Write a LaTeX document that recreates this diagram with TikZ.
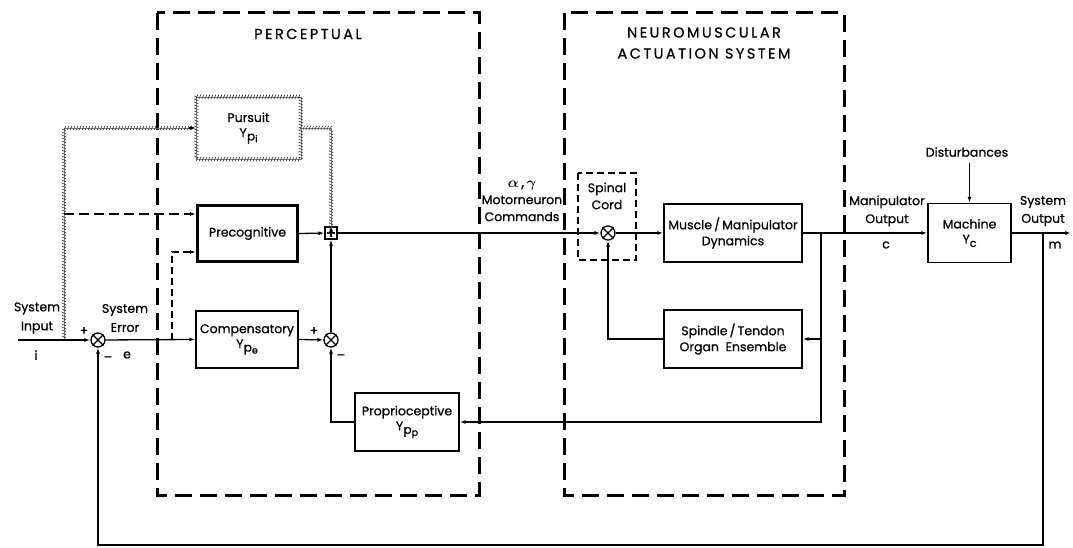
\documentclass[tikz,border=0pt]{standalone}
\usepackage{fontspec}
\usepackage{bm}
\setmainfont{Poppins}[FakeBold=0.7]
\newfontfamily\hdfont{Poppins}[FakeBold=0.7,LetterSpace=17]
\usetikzlibrary{arrows.meta,decorations.markings}
\newcommand\Ysb[2]{Y\kern0.3pt\raisebox{-0.5ex}{\fontsize{12}{12}\selectfont #1\raisebox{-0.3ex}{\fontsize{9.5}{9.5}\selectfont #2}}}
\begin{document}
\begin{tikzpicture}[x=1pt,y=-1pt,
  font=\fontsize{12.5}{14}\selectfont,
  >={Latex[length=6pt,width=4pt]},
  ln/.style={line width=1.3pt},
  blk/.style={draw,line width=1.4pt,align=center,inner sep=0pt},
  sumc/.style={draw,circle,line width=1.3pt,minimum size=14pt,inner sep=0pt},
  sqsum/.style={draw,rectangle,line width=1.3pt,minimum size=12pt,inner sep=0pt},
  bigdash/.style={line width=3pt,dash pattern=on 17pt off 8pt},
  hatch/.style={line width=0.3pt,draw=black!50,postaction={decorate},
    decoration={markings,mark=between positions 0 and 1 step 3pt with
      {\draw[line width=0.6pt,black!80] (-0.9pt,-2.1pt)--(0.9pt,2.1pt);}}},
  lbl/.style={align=center,inner sep=0pt},
  hd/.style={align=center,inner sep=0pt,font=\hdfont\fontsize{14.5}{21}\selectfont}
]
\useasboundingbox (0,0) rectangle (1073,548);

% dashed frames
\draw[bigdash] (157,13) rectangle (479,495);
\draw[bigdash] (564,13) rectangle (844,495);
\node[hd] (tperc) at (308,34) {PERCEPTUAL};
\node[hd] (tnm) at (704,43) {NEUROMUSCULAR\\ACTUATION SYSTEM};

% blocks
\node[blk,draw=none,minimum width=103pt,minimum height=61pt] (pur) at (248.5,128) {Pursuit\\[1pt]\Ysb{p}{i}};
\draw[hatch] (pur.north west) rectangle (pur.south east);
\node[blk,line width=3pt,minimum width=100pt,minimum height=56pt] (pre) at (247.5,233.5) {Precognitive};
\node[blk,minimum width=102pt,minimum height=57pt] (com) at (247,339.5) {Compensatory\\[1pt]\Ysb{p}{e}};
\node[blk,minimum width=104pt,minimum height=58pt] (pro) at (407,422) {Proprioceptive\\[1pt]\Ysb{p}{p}};
\node[blk,minimum width=138pt,minimum height=58pt] (mus) at (733,233) {Muscle\,/\,Manipulator\\[2pt]Dynamics};
\node[blk,minimum width=138pt,minimum height=58pt] (spi) at (733,339) {Spindle\,/\,Tendon\\[2pt]Organ\ \ Ensemble};
\node[blk,minimum width=83pt,minimum height=59pt] (mac) at (969.5,233) {Machine\\[1pt]Y\raisebox{-0.5ex}{\fontsize{11}{11}\selectfont c}};

% spinal cord
\draw[line width=1.1pt,dash pattern=on 7pt off 4pt] (578,173) rectangle (636,260);
\node[lbl,font=\fontsize{12.5}{17}\selectfont] (tspinal) at (607,196) {Spinal\\Cord};

% summing junctions
\node[sumc] (c1) at (98,340) {};
\node[sumc] (c2) at (331,340) {};
\node[sumc] (c3) at (608,233) {};
\foreach \c in {c1,c2,c3}{
  \draw[line width=1.1pt] (\c.north west) -- (\c.south east);
  \draw[line width=1.1pt] (\c.north east) -- (\c.south west);
}
\node[sqsum] (sq) at (331,233) {};
\draw[line width=1.1pt] ([yshift=-2.5pt]sq.north) -- ([yshift=2.5pt]sq.south);
\draw[line width=1.1pt] ([xshift=2.5pt]sq.west) -- ([xshift=-2.5pt]sq.east);

% coordinates
\coordinate (in) at (18,340);
\coordinate (jh) at (64,340);
\coordinate (jht) at (64,128);
\coordinate (jd) at (64,214);
\coordinate (je) at (172,340);
\coordinate (jet) at (172,252);
\coordinate (jm) at (821,233);
\coordinate (js) at (821,339);
\coordinate (jo) at (1043,233);
\coordinate (out) at (1071,233);
\coordinate (bot) at (1043,545);

% hatched pursuit paths
\draw[hatch] (jh) -- (jht) -- ([xshift=-5pt]pur.west);
\draw[ln,->] ([xshift=-7pt]pur.west) -- (pur.west);
\draw[hatch] (pur.east) -| ([yshift=-7pt]sq.north);
\draw[ln,->] ([yshift=-7pt]sq.north) -- (sq.north);

% dashed precognitive inputs
\draw[ln,dash pattern=on 10pt off 5pt,->] (jd) -- (pre.west |- jd);
\draw[ln,dash pattern=on 7pt off 4pt,->] (je) -- (jet) -- (pre.west |- jet);

% solid signal paths
\draw[ln,->] (in) -- (c1);
\draw[ln,->] (c1) -- (com.west);
\draw[ln,->] (com.east) -- (c2);
\draw[ln,->] (c2) -- (sq);
\draw[ln,->] (pre.east) -- (sq);
\draw[ln,->] (sq) -- (c3);
\draw[ln,->] (c3) -- (mus.west);
\draw[ln,->] (mus.east) -- (mac.west);
\draw[ln,->] (jm) |- (pro.east);
\draw[ln,->] (js) -- (spi.east);
\draw[ln,->] (spi.west) -| (c3.south);
\draw[ln,->] (pro.west) -| (c2.south);
\draw[ln,->] (mac.east) -- (out);
\draw[ln,->] (jo) -- (bot) -| (c1.south);

% disturbances
\node[lbl] (dist) at (967,152) {Disturbances};
\draw[ln,->] ([yshift=-6pt]dist.south -| mac.north) -- (mac.north);

% labels
\node[lbl,font=\fontsize{12.5}{19}\selectfont] (tsi) at (37,318) {System\\Input};
\node[lbl] (ti) at (36,355) {i};
\node[lbl] (tp1) at (84,331) {+};
\node[lbl] (tm1) at (108,359) {\textendash};
\node[lbl,font=\fontsize{12.5}{19}\selectfont] (tse) at (125,318) {System\\Error};
\node[lbl] (te) at (127,355) {e};
\node[lbl] (tp2) at (314,331) {+};
\node[lbl] (tm2) at (341,357) {\textendash};
\node[lbl,font=\fontsize{12.5}{17}\selectfont] (tmot) at (522,201) {{\fontsize{15}{15}\selectfont$\bm{\alpha}$\,,\,$\bm{\gamma}$}\\Motorneuron\\Commands};
\node[lbl,font=\fontsize{12.5}{18}\selectfont] (tman) at (887,211) {Manipulator\\Output};
\node[lbl] (tc) at (886,245) {c};
\node[lbl,font=\fontsize{12.5}{18}\selectfont] (tso) at (1043,211) {System\\Output};
\node[lbl] (tmm) at (1055,245) {m};
\end{tikzpicture}
\end{document}
